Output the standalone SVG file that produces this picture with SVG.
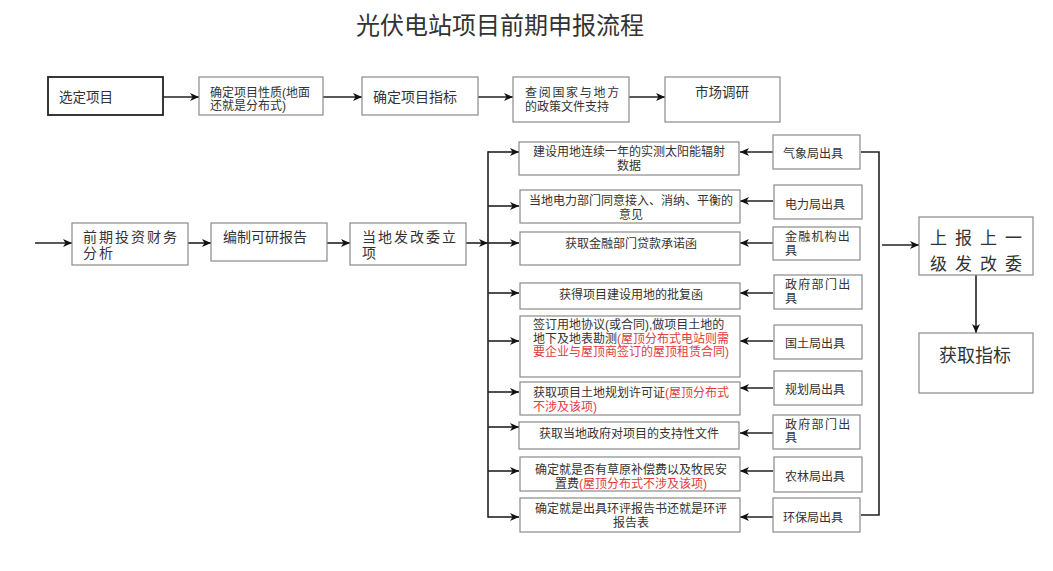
<svg xmlns="http://www.w3.org/2000/svg" width="1053" height="571" viewBox="0 0 1053 571">
<defs>
<marker id="ah" markerUnits="userSpaceOnUse" markerWidth="10" markerHeight="8" refX="9" refY="4" orient="auto">
<path d="M0,0 L9,4 L0,8 L2.5,4 Z" fill="#111"/>
</marker>
</defs>
<style>
text{font-family:"Liberation Sans","Noto Sans CJK SC",sans-serif;fill:#333;}
.b{fill:#fff;stroke:#8a8a8a;stroke-width:1.2;}
.bk{fill:#fff;stroke:#222;stroke-width:1.8;}
.c{fill:none;stroke:#222;stroke-width:1.6;}
.ca{fill:none;stroke:#222;stroke-width:1.6;marker-end:url(#ah);}
.s12{font-size:12px;}
.s14{font-size:14px;}
.m{text-anchor:middle;}
.r{fill:#e23a42;}
</style>
<rect width="1053" height="571" fill="#fff"/>
<text x="500" y="34" class="m" style="font-size:24px">光伏电站项目前期申报流程</text>

<g id="connectors">
<line class="ca" x1="163" y1="97" x2="199" y2="97"/>
<line class="ca" x1="323" y1="97" x2="362" y2="97"/>
<line class="ca" x1="478" y1="97" x2="513" y2="97"/>
<line class="ca" x1="629" y1="97" x2="665" y2="97"/>
<line class="ca" x1="35" y1="243" x2="72" y2="243"/>
<line class="ca" x1="188" y1="243" x2="211" y2="243"/>
<line class="ca" x1="327" y1="243" x2="350" y2="243"/>
<line class="ca" x1="466" y1="243" x2="488" y2="243"/>
<line class="c" x1="488" y1="151.2" x2="488" y2="517.8"/>
<line class="ca" x1="488" y1="152" x2="519" y2="152"/>
<line class="ca" x1="488" y1="206" x2="519" y2="206"/>
<line class="ca" x1="488" y1="243" x2="519" y2="243"/>
<line class="ca" x1="488" y1="293" x2="519" y2="293"/>
<line class="ca" x1="488" y1="341" x2="519" y2="341"/>
<line class="ca" x1="488" y1="392" x2="519" y2="392"/>
<line class="ca" x1="488" y1="427" x2="519" y2="427"/>
<line class="ca" x1="488" y1="471" x2="519" y2="471"/>
<line class="ca" x1="488" y1="517" x2="519" y2="517"/>
<line class="ca" x1="773" y1="152" x2="740" y2="152"/>
<line class="ca" x1="773" y1="201" x2="740" y2="201"/>
<line class="ca" x1="773" y1="243" x2="740" y2="243"/>
<line class="ca" x1="773" y1="293" x2="740" y2="293"/>
<line class="ca" x1="773" y1="341" x2="740" y2="341"/>
<line class="ca" x1="773" y1="388" x2="740" y2="388"/>
<line class="ca" x1="773" y1="433" x2="740" y2="433"/>
<line class="ca" x1="773" y1="471" x2="740" y2="471"/>
<line class="ca" x1="773" y1="517" x2="740" y2="517"/>
<polyline class="c" points="861,152 879,152 879,515 861,515"/>
<line class="ca" x1="882" y1="245" x2="919" y2="245"/>
<line class="ca" x1="976" y1="275" x2="976" y2="333"/>
</g>

<g id="n1"><rect class="bk" x="48" y="77" width="115" height="38"/><text x="59" y="102" style="font-size:13.5px">选定项目</text></g>
<g id="n2"><rect class="b" x="199" y="77" width="124" height="38"/><text x="210" y="96.5" class="s12">确定项目性质(地面</text><text x="210" y="110" class="s12">还就是分布式)</text></g>
<g id="n3"><rect class="b" x="362" y="77" width="116" height="38"/><text x="373" y="102" class="s14">确定项目指标</text></g>
<g id="n4"><rect class="b" x="513" y="77" width="116" height="45"/><text x="525" y="96.5" class="s12" letter-spacing="1.7">查阅国家与地方</text><text x="525" y="110.5" class="s12">的政策文件支持</text></g>
<g id="n5"><rect class="b" x="665" y="77" width="115" height="45"/><text x="695" y="97" style="font-size:13.5px">市场调研</text></g>

<g id="n6"><rect class="b" x="72" y="223" width="116" height="42"/><text x="83" y="242" class="s14" letter-spacing="2">前期投资财务</text><text x="83" y="258" class="s14" letter-spacing="2">分析</text></g>
<g id="n7"><rect class="b" x="211" y="223" width="116" height="38"/><text x="223" y="242" class="s14">编制可研报告</text></g>
<g id="n8"><rect class="b" x="350" y="223" width="116" height="42"/><text x="362" y="242" class="s14" letter-spacing="2">当地发改委立</text><text x="362" y="258" class="s14">项</text></g>

<g id="c1"><rect class="b" x="519" y="142" width="220" height="33"/><text x="629" y="156" class="s12 m">建设用地连续一年的实测太阳能辐射</text><text x="629" y="169.5" class="s12 m">数据</text></g>
<g id="c2"><rect class="b" x="520" y="190" width="220" height="33"/><text x="631" y="205" class="s12 m">当地电力部门同意接入、消纳、平衡的</text><text x="631" y="218.5" class="s12 m">意见</text></g>
<g id="c3"><rect class="b" x="520" y="232" width="220" height="33"/><text x="631" y="247.5" class="s12 m">获取金融部门贷款承诺函</text></g>
<g id="c4"><rect class="b" x="520" y="283" width="220" height="26"/><text x="631" y="298.5" class="s12 m">获得项目建设用地的批复函</text></g>
<g id="c5"><rect class="b" x="520" y="316" width="220" height="61"/><text x="533" y="329" class="s12">签订用地协议(或合同),做项目土地的</text><text x="533" y="342.5" class="s12">地下及地表勘测<tspan class="r">(屋顶分布式电站则需</tspan></text><text x="533" y="356" class="s12 r">要企业与屋顶商签订的屋顶租赁合同)</text></g>
<g id="c6"><rect class="b" x="520" y="382" width="220" height="33"/><text x="533" y="397" class="s12">获取项目土地规划许可证<tspan class="r">(屋顶分布式</tspan></text><text x="533" y="410.5" class="s12 r">不涉及该项)</text></g>
<g id="c7"><rect class="b" x="519" y="422" width="220" height="27"/><text x="629" y="437.5" class="s12 m">获取当地政府对项目的支持性文件</text></g>
<g id="c8"><rect class="b" x="520" y="457" width="220" height="34"/><text x="631" y="474" class="s12 m">确定就是否有草原补偿费以及牧民安</text><text x="631" y="487.5" class="s12 m">置费<tspan class="r">(屋顶分布式不涉及该项)</tspan></text></g>
<g id="c9"><rect class="b" x="520" y="498" width="220" height="34"/><text x="631" y="513" class="s12 m">确定就是出具环评报告书还就是环评</text><text x="631" y="526.5" class="s12 m">报告表</text></g>

<g id="r1"><rect class="b" x="773" y="135" width="87" height="34"/><text x="783" y="157.5" class="s12">气象局出具</text></g>
<g id="r2"><rect class="b" x="774" y="185" width="88" height="34"/><text x="785" y="208.5" class="s12">电力局出具</text></g>
<g id="r3"><rect class="b" x="773" y="227" width="87" height="33"/><text x="785" y="241" class="s12" letter-spacing="1.2">金融机构出</text><text x="785" y="254.5" class="s12">具</text></g>
<g id="r4"><rect class="b" x="774" y="275" width="88" height="34"/><text x="785" y="289" class="s12" letter-spacing="1.3">政府部门出</text><text x="785" y="302.5" class="s12">具</text></g>
<g id="r5"><rect class="b" x="774" y="325" width="88" height="34"/><text x="785" y="347.5" class="s12">国土局出具</text></g>
<g id="r6"><rect class="b" x="774" y="371" width="88" height="34"/><text x="785" y="393.5" class="s12">规划局出具</text></g>
<g id="r7"><rect class="b" x="773" y="415" width="87" height="34"/><text x="785" y="428.5" class="s12" letter-spacing="1.3">政府部门出</text><text x="785" y="442" class="s12">具</text></g>
<g id="r8"><rect class="b" x="774" y="457" width="88" height="35"/><text x="785" y="480.5" class="s12">农林局出具</text></g>
<g id="r9"><rect class="b" x="773" y="498" width="87" height="34"/><text x="783" y="521.5" class="s12">环保局出具</text></g>

<g id="u1"><rect class="b" x="919" y="217" width="114" height="58"/><text x="930" y="243.5" style="font-size:17px" letter-spacing="8">上报上一</text><text x="930" y="269.5" style="font-size:17px" letter-spacing="8">级发改委</text></g>
<g id="u2"><rect class="b" x="919" y="333" width="114" height="60"/><text x="939" y="362" style="font-size:18px">获取指标</text></g>
</svg>
